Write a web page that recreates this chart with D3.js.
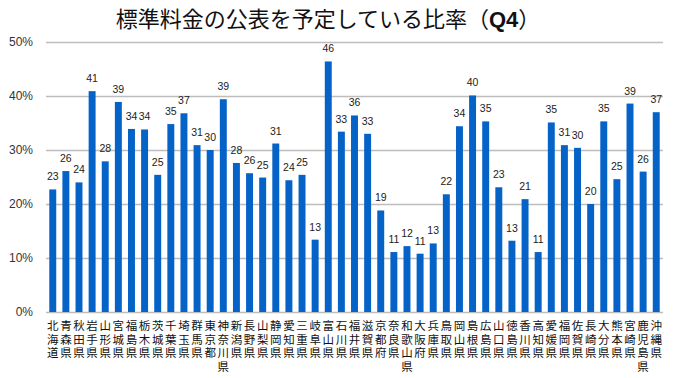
<!DOCTYPE html>
<html>
<head>
<meta charset="utf-8">
<script src="https://cdn.jsdelivr.net/npm/d3@7"></script>
<style>
  body { margin: 0; background: #fff; }
  text { font-family: "Liberation Sans", Arial, sans-serif; }
  .title { font-family: "Noto Sans CJK JP", sans-serif; }
  .pref { font-family: "Noto Sans CJK JP", sans-serif; writing-mode: vertical-rl; }
</style>
</head>
<body>
<div id="chart"></div>
<script>
// prefectures (left to right)
const prefs = ["北海道","青森県","秋田県","岩手県","山形県","宮城県","福島県","栃木県","茨城県","千葉県",
  "埼玉県","群馬県","東京都","神奈川県","新潟県","長野県","山梨県","静岡県","愛知県","三重県",
  "岐阜県","富山県","石川県","福井県","滋賀県","京都府","奈良県","和歌山県","大阪府","兵庫県",
  "鳥取県","岡山県","島根県","広島県","山口県","徳島県","香川県","高知県","愛媛県","福岡県",
  "佐賀県","長崎県","大分県","熊本県","宮崎県","鹿児島県","沖縄県"];

// percent values
const values = [22.7,26.1,24.0,40.9,27.9,38.9,33.9,33.8,25.4,34.8,
  36.8,30.9,30.0,39.4,27.6,25.7,24.9,31.2,24.4,25.4,
  13.4,46.4,33.4,36.4,33.0,18.8,11.1,12.2,10.8,12.7,
  21.8,34.4,40.1,35.3,23.1,13.2,20.9,11.1,35.1,30.9,
  30.4,20.0,35.3,24.6,38.6,26.0,37.0];

const yTicks = [0, 10, 20, 30, 40, 50];

const width = 680, height = 378,
  margin = ({ top: 42, right: 17, bottom: 66, left: 46 });

const svg = d3.select("#chart")
  .append("svg")
  .attr("width", width)
  .attr("height", height);

// title
const title = svg.append("text")
  .attr("class", "title")
  .attr("x", 328)
  .attr("y", 27)
  .attr("text-anchor", "middle")
  .attr("font-size", 22)
  .attr("fill", "#111");
title.append("tspan").text("標準料金の公表を予定している比率（");
title.append("tspan").attr("font-weight", "bold")
  .attr("font-family", "Liberation Sans, Arial, sans-serif").text("Q4");
title.append("tspan").text("）");

let x = d3.scaleBand()
  .domain(prefs)
  .range([margin.left, width - margin.right])
  .paddingInner(0.47)
  .paddingOuter(0.25);

let y = d3.scaleLinear()
  .domain([0, 50])
  .range([height - margin.bottom, margin.top]);

// gridlines + y labels
svg.append("g")
  .attr("transform", `translate(${margin.left},0)`)
  .call(d3.axisLeft(y).tickValues(yTicks)
    .tickFormat(d => d + "%")
    .tickSize(-(width - margin.left - margin.right))
    .tickPadding(13))
  .call(g => g.select(".domain").remove())
  .call(g => g.selectAll(".tick line").attr("stroke", "#bdbdbd").attr("stroke-width", 1.5))
  .call(g => g.selectAll(".tick text")
    .attr("font-size", 12)
    .attr("fill", "#333")
    .attr("font-family", "Liberation Sans, Arial, sans-serif"));

// bars
svg.append("g")
  .selectAll("rect")
  .data(values)
  .enter()
  .append("rect")
    .attr("x", (d, i) => x(prefs[i]))
    .attr("y", d => y(d))
    .attr("width", x.bandwidth())
    .attr("height", d => y(0) - y(d))
    .attr("fill", "#0563c8");

// value labels
svg.append("g")
  .selectAll("text")
  .data(values)
  .enter()
  .append("text")
    .attr("x", (d, i) => x(prefs[i]) + x.bandwidth() / 2)
    .attr("y", d => y(d) - 9)
    .attr("text-anchor", "middle")
    .attr("font-size", 10.5)
    .attr("fill", "#222")
    .text(d => Math.round(d));

// prefecture names, stacked vertically
svg.append("g")
  .selectAll("text")
  .data(prefs)
  .enter()
  .append("text")
    .attr("class", "pref")
    .attr("x", d => x(d) + x.bandwidth() / 2)
    .attr("y", y(0) + 8)
    .attr("font-size", 11.5)
    .attr("letter-spacing", 2)
    .attr("fill", "#111")
    .text(d => d);
</script>
</body>
</html>
